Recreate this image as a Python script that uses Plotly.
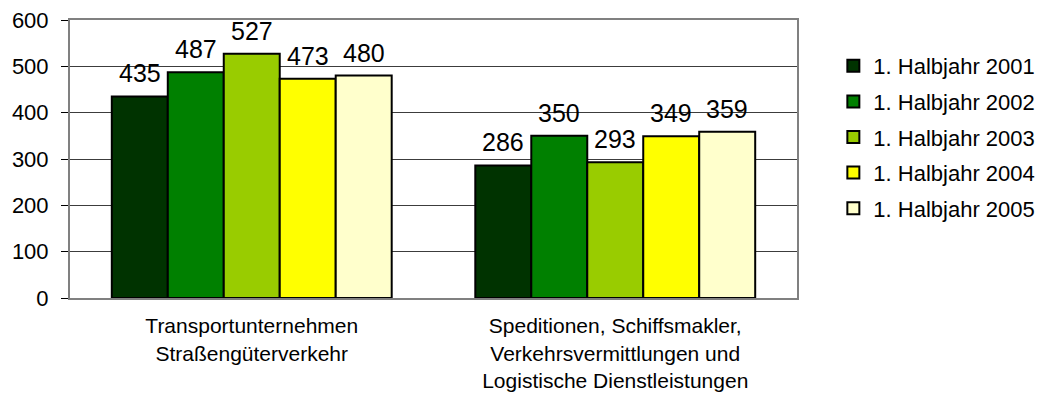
import plotly.graph_objects as go

categories = ["Transportunternehmen<br>Straßengüterverkehr",
              "Speditionen, Schiffsmakler,<br>Verkehrsvermittlungen und<br>Logistische Dienstleistungen"]
series_names = ["1. Halbjahr 2001", "1. Halbjahr 2002", "1. Halbjahr 2003",
                "1. Halbjahr 2004", "1. Halbjahr 2005"]
values_2001 = [435, 286]
values_2002 = [487, 350]
values_2003 = [527, 293]
values_2004 = [473, 349]
values_2005 = [480, 359]
series_values = [values_2001, values_2002, values_2003, values_2004, values_2005]
colors = ["#003300", "#008000", "#99CC00", "#FFFF00", "#FFFFCC"]
y_ticks = [0, 100, 200, 300, 400, 500, 600]

FONT = "Liberation Sans, Arial, sans-serif"
# the page body has an 8px default margin, so the figure is shrunk by that offset
OFFSET = 8
W, H = 1055 - OFFSET, 405 - OFFSET
ML, MR, MT, MB = 70 - OFFSET, 258, 20 - OFFSET, 107
BARGAP = 0.23
plot_w = W - ML - MR
bar_px = plot_w / len(categories) * (1 - BARGAP) / len(series_names)

fig = go.Figure()
for i, (name, vals, col) in enumerate(zip(series_names, series_values, colors)):
    fig.add_trace(go.Bar(
        x=categories, y=vals, name=name, legendgroup=name,
        marker=dict(color=col, line=dict(color="#000000", width=2)),
        hoverinfo="y",
    ))
    for c, v in zip(categories, vals):
        fig.add_annotation(
            x=c, y=v, xref="x", yref="y", text=str(v), showarrow=False,
            xshift=(i - (len(series_names) - 1) / 2) * bar_px,
            yanchor="bottom", yshift=7,
            font=dict(family=FONT, size=25, color="#000000"),
        )

fig.update_layout(
    width=W, height=H,
    margin=dict(l=ML, r=MR, t=MT, b=MB, autoexpand=False),
    paper_bgcolor="#FFFFFF", plot_bgcolor="#FFFFFF",
    barmode="group", bargap=BARGAP, bargroupgap=0,
    font=dict(family=FONT, color="#000000"),
    showlegend=True,
    legend=dict(
        x=1.05, xanchor="left", y=0.91, yanchor="top",
        font=dict(family=FONT, size=22, color="#000000"),
        tracegroupgap=4, itemclick=False, bgcolor="rgba(0,0,0,0)",
    ),
    xaxis=dict(
        showline=True, linecolor="#808080", linewidth=2, mirror=True,
        showgrid=False, ticks="", tickfont=dict(family=FONT, size=21, color="#000000"),
        ticklabelstandoff=8,
    ),
    yaxis=dict(
        range=[0, 600], tickvals=y_ticks, ticktext=[str(t) for t in y_ticks],
        showline=True, linecolor="#808080", linewidth=2, mirror=True,
        showgrid=True, gridcolor="#3C3C3C", gridwidth=1,
        ticks="outside", ticklen=7, tickcolor="#000000", tickwidth=1,
        tickfont=dict(family=FONT, size=22, color="#000000"),
        ticklabelstandoff=8, ticklabeloverflow="allow",
        zeroline=False,
    ),
)

fig.write_html("out.html")
